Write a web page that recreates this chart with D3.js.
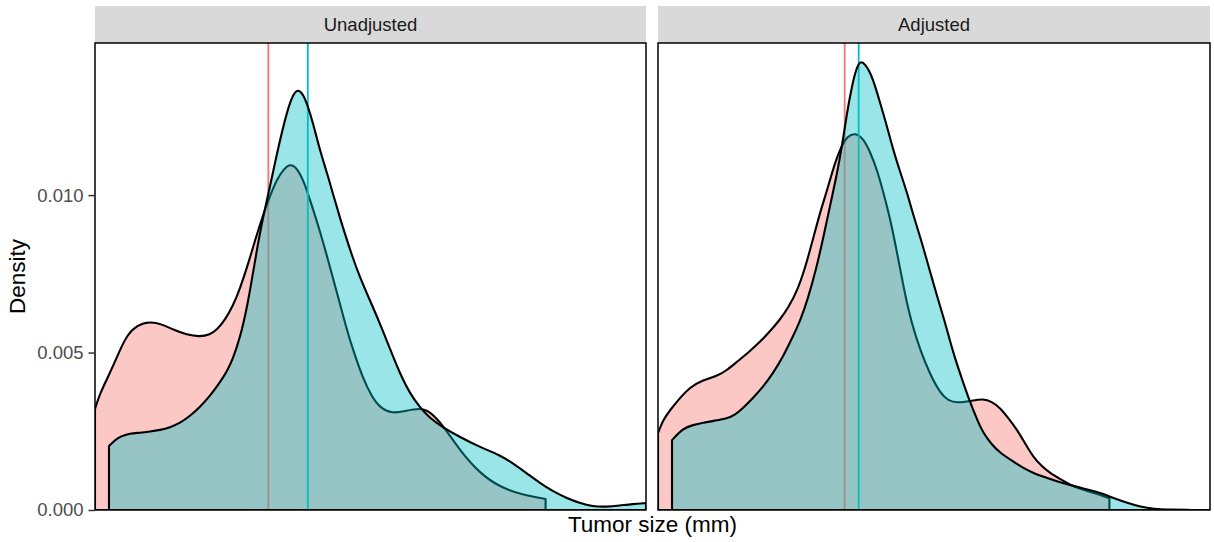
<!DOCTYPE html>
<html>
<head>
<meta charset="utf-8">
<script src="https://cdn.jsdelivr.net/npm/d3@7"></script>
<style>
  html, body { margin: 0; padding: 0; background: #fff; }
  svg { display: block; }
  text { font-family: "Liberation Sans", Arial, Helvetica, sans-serif; }
</style>
</head>
<body>
<svg id="chart" width="1214" height="542"></svg>
<script>
// ---------- DATA ----------
const panels = ["Unadjusted", "Adjusted"];
const groups = ["Control", "Treated"];
const groupColors = ["#F8766D", "#00BFC4"];
const yTicks = [0.000, 0.005, 0.010];
const xTitle = "Tumor size (mm)";
const yTitle = "Density";
const sizeDomain = [0, 110.3];
const densityDomain = [0, 0.01483];

// [tumor size (mm), density]
const unadjustedControl = [
  [0,0.00321],[1,0.00371],[3,0.00435],[5,0.00508],[6.4,0.00555],[8.4,0.00587],[11,0.00599],
  [13.4,0.00590],[15.6,0.00573],[18.4,0.00556],[21,0.00550],[23,0.00557],[24.4,0.00572],
  [26,0.00603],[27.6,0.00648],[29,0.00702],[30.6,0.00778],[32.2,0.00865],[33.6,0.00935],
  [35,0.00997],[36.4,0.01050],[37.8,0.01083],[39,0.01098],[40,0.01092],[41,0.01070],
  [42,0.01035],[43,0.00987],[45,0.00889],[47.6,0.00740],[50.4,0.00571],[52,0.00492],
  [53.6,0.00420],[55.4,0.00360],[57,0.00325],[59.6,0.00306],[62,0.00314],[65,0.00324],
  [67,0.00314],[69.6,0.00270],[73,0.00190],[77,0.00117],[81,0.00073],[85.6,0.00048],[90.2,0.00035]
];
const unadjustedTreated = [
  [2.8,0.00203],[4,0.00222],[5,0.00233],[7,0.00244],[9,0.00245],[11,0.00249],[13,0.00254],
  [15,0.00262],[17,0.00276],[19,0.00298],[21,0.00327],[23,0.00362],[25,0.00405],[26.4,0.00440],
  [27.6,0.00480],[29,0.00545],[30.4,0.00640],[31.6,0.00750],[32.6,0.00845],[33.6,0.00927],
  [35,0.01025],[37,0.01175],[39,0.01300],[40.4,0.01340],[41.6,0.01322],[42.4,0.01292],
  [43.6,0.01232],[45,0.01143],[46.4,0.01073],[47.6,0.01006],[49,0.00930],[50,0.00879],
  [51.4,0.00810],[53,0.00740],[55,0.00667],[57,0.00594],[59,0.00514],[61,0.00435],
  [63,0.00371],[65,0.00327],[67,0.00292],[69.6,0.00263],[73,0.00232],[77,0.00200],
  [81,0.00175],[83.6,0.00149],[86.4,0.00117],[89,0.00086],[91.6,0.00060],[94.4,0.00038],
  [97,0.00022],[99.6,0.00011],[102.4,0.00010],[105,0.00014],[107.6,0.00019],[110.3,0.00022]
];
const adjustedControl = [
  [0,0.00244],[1,0.00286],[2.4,0.00317],[4.4,0.00356],[6.4,0.00390],[9,0.00413],[11.8,0.00425],
  [13.8,0.00444],[15.8,0.00471],[18.4,0.00505],[20.4,0.00534],[22.4,0.00568],[24.4,0.00605],
  [26,0.00642],[27.8,0.00695],[29.4,0.00768],[31,0.00862],[32.4,0.00946],[33.8,0.01016],
  [34.8,0.01073],[35.8,0.01121],[36.8,0.01160],[37.8,0.01186],[39.4,0.01198],[41,0.01180],
  [42.4,0.01137],[43.8,0.01079],[45,0.01010],[46.4,0.00925],[47.8,0.00815],[49.4,0.00680],
  [50.8,0.00587],[52.4,0.00508],[54.4,0.00429],[56.4,0.00371],[58,0.00347],[59.8,0.00340],
  [62.4,0.00346],[65,0.00354],[66.8,0.00343],[68.4,0.00324],[70,0.00292],[71.8,0.00254],
  [73.4,0.00210],[75,0.00168],[76.8,0.00137],[78.4,0.00117],[80.4,0.00098],[82.4,0.00079],
  [84.4,0.00067],[86.4,0.00057],[88.4,0.00048],[90.2,0.00037]
];
const adjustedTreated = [
  [2.8,0.00222],[5,0.00260],[7,0.00270],[9,0.00277],[11.4,0.00284],[13.8,0.00291],[15.4,0.00302],
  [17,0.00324],[19,0.00356],[21,0.00391],[23,0.00435],[25,0.00487],[26.8,0.00546],[28.4,0.00600],
  [30,0.00673],[31.6,0.00765],[33,0.00862],[34.4,0.00968],[35.8,0.01070],[36.8,0.01159],
  [37.8,0.01265],[38.6,0.01333],[39.4,0.01390],[40,0.01415],[40.6,0.01425],[41.4,0.01415],
  [42.4,0.01390],[43.4,0.01346],[44.4,0.01292],[45.8,0.01216],[47,0.01143],[48.4,0.01073],
  [49.8,0.01006],[51,0.00937],[52.4,0.00867],[54,0.00778],[55.8,0.00676],[57.4,0.00594],
  [59,0.00498],[60.8,0.00413],[62.4,0.00340],[63.8,0.00286],[65,0.00244],[66.8,0.00206],
  [68.4,0.00181],[70.8,0.00156],[73,0.00133],[75.4,0.00114],[77.8,0.00102],[80,0.00089],
  [82.4,0.00079],[84.4,0.00071],[86.4,0.00063],[88.4,0.00054],[91,0.00038],[93.8,0.00022],
  [96.4,0.00010],[99,0.00003],[102.4,0.00001],[106.4,0],[110.3,0]
];
// group means (mm) per panel
const unadjustedMeans = [34.7, 42.6];
const adjustedMeans = [37.3, 40.1];

// ---------- LAYOUT ----------
const svg = d3.select("#chart");
const panelTop = 43, panelBottom = 510, stripTop = 6;
const panelX = [[95, 646], [658, 1210]];
const panelData = [
  { name: panels[0], series: [unadjustedControl, unadjustedTreated], means: unadjustedMeans },
  { name: panels[1], series: [adjustedControl, adjustedTreated], means: adjustedMeans }
];

const y = d3.scaleLinear().domain(densityDomain).range([panelBottom, panelTop]);

panelData.forEach((p, i) => {
  const [x0, x1] = panelX[i];
  const x = d3.scaleLinear().domain(sizeDomain).range([x0, x1]);
  const g = svg.append("g");

  // strip
  g.append("rect").attr("x", x0).attr("y", stripTop).attr("width", x1 - x0)
    .attr("height", panelTop - stripTop).attr("fill", "#D9D9D9");
  g.append("text").attr("x", (x0 + x1) / 2).attr("y", (stripTop + panelTop) / 2)
    .attr("dy", "0.36em").attr("text-anchor", "middle").attr("font-size", 18.5)
    .attr("fill", "#1A1A1A").text(p.name);

  const clipId = "clip" + i;
  svg.append("clipPath").attr("id", clipId).append("rect")
    .attr("x", x0).attr("y", panelTop).attr("width", x1 - x0).attr("height", panelBottom - panelTop);
  const plot = g.append("g").attr("clip-path", `url(#${clipId})`);

  const area = d3.area().x(d => x(d[0])).y0(y(0)).y1(d => y(d[1])).curve(d3.curveBasis);

  p.series.forEach((s, k) => {
    plot.append("line").attr("x1", x(p.means[k])).attr("x2", x(p.means[k]))
      .attr("y1", panelTop).attr("y2", panelBottom)
      .attr("stroke", groupColors[k]).attr("stroke-width", 1.8);
    plot.append("path").datum(s).attr("d", area)
      .attr("fill", groupColors[k]).attr("fill-opacity", 0.4)
      .attr("stroke", "#000").attr("stroke-width", 2.1).attr("stroke-linejoin", "round");
  });

  // panel border
  g.append("rect").attr("x", x0).attr("y", panelTop).attr("width", x1 - x0)
    .attr("height", panelBottom - panelTop).attr("fill", "none")
    .attr("stroke", "#000").attr("stroke-width", 1.5);

  if (i === 0) {
    const axis = d3.axisLeft(y).tickValues(yTicks).tickFormat(d3.format(".3f"))
      .tickSize(6.5).tickPadding(5);
    const ag = svg.append("g").attr("transform", `translate(${x0},0)`).call(axis);
    ag.select(".domain").remove();
    ag.selectAll(".tick line").attr("stroke", "#333333").attr("stroke-width", 1.5);
    ag.selectAll(".tick text").attr("font-size", 18.5).attr("fill", "#4D4D4D")
      .attr("font-family", "Liberation Sans, Arial, sans-serif");
  }
});

// axis titles
svg.append("text").attr("x", (panelX[0][0] + panelX[1][1]) / 2).attr("y", 532)
  .attr("text-anchor", "middle").attr("font-size", 22.5).attr("fill", "#000").text(xTitle);
svg.append("text").attr("transform", `translate(25,${(panelTop + panelBottom) / 2}) rotate(-90)`)
  .attr("text-anchor", "middle").attr("font-size", 22.5).attr("fill", "#000").text(yTitle);
</script>
</body>
</html>
